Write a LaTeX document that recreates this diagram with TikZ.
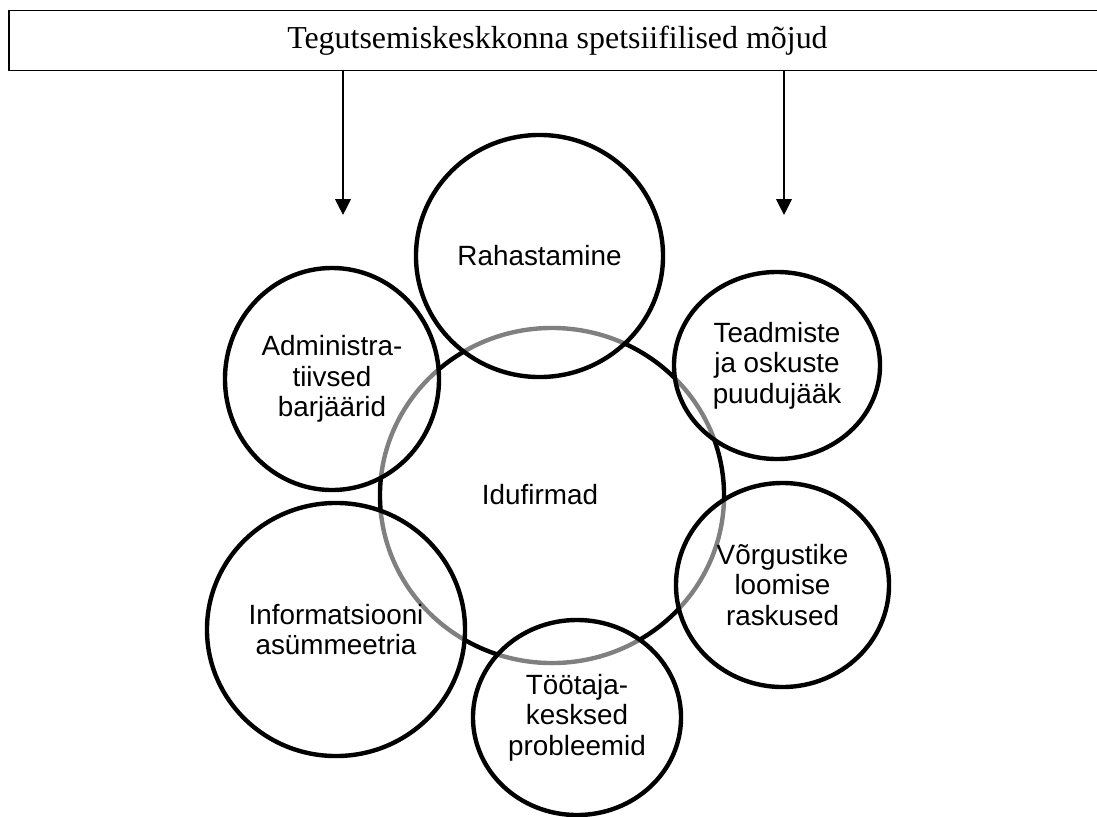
\documentclass[tikz,border=0pt]{standalone}
\usepackage{fontspec}
\setmainfont{Liberation Serif}
\newfontfamily\arialfont{Liberation Sans}
\usetikzlibrary{arrows.meta,shapes.geometric}

\begin{document}
\begin{tikzpicture}[x=0.025cm,y=-0.025cm,
  bubble/.style={ellipse,draw,line width=0.11cm,align=center,inner sep=0pt,
                 fill=white,fill opacity=0.5,text opacity=1,
                 font=\arialfont\fontsize{19.8pt}{21.6pt}\selectfont},
  envbox/.style={draw,line width=0.04cm,minimum width=27.425cm,minimum height=1.5cm,
                 font=\fontsize{22.7pt}{26pt}\selectfont},
  >={Triangle[width=0.39cm,length=0.4cm]}]
\useasboundingbox (0,0) rectangle (1097,816);
\node[envbox,anchor=north west] (env) at (8,9.5) {Tegutsemiskeskkonna spetsiifilised mõjud};
\coordinate (tipL) at (343,215);
\coordinate (tipR) at (784,215);
\draw[->,line width=0.055cm] (env.south -| tipL) -- (tipL);
\draw[->,line width=0.055cm] (env.south -| tipR) -- (tipR);
% centre circle first, the others lie half transparent over it
\node[ellipse,draw,line width=0.11cm,minimum width=8.6cm,minimum height=8.375cm] (idu) at (552,495.5) {};
\node[font=\arialfont\fontsize{19.8pt}{21.6pt}\selectfont] (idutxt) at (540,495) {Idufirmad};
\node[bubble,minimum width=6.175cm,minimum height=6.05cm] (rah) at (539.5,256) {Rahastamine};
\node[bubble,minimum width=5.35cm,minimum height=5.55cm] (adm) at (332,379) {Administra-\\tiivsed\\barjäärid};
\node[bubble,minimum width=5.15cm,minimum height=4.675cm] (tea) at (777,365.5) {Teadmiste\\ja oskuste\\puudujääk};
\node[bubble,minimum width=5.325cm,minimum height=5.1cm] (vor) at (782.5,585) {Võrgustike\\loomise\\raskused};
\node[bubble,minimum width=6.45cm,minimum height=6.325cm] (inf) at (336,629.5) {Informatsiooni\\asümmeetria};
\node[bubble,minimum width=5.2cm,minimum height=4.875cm] (too) at (577,717.5) {Töötaja-\\kesksed\\probleemid};
\end{tikzpicture}
\end{document}
